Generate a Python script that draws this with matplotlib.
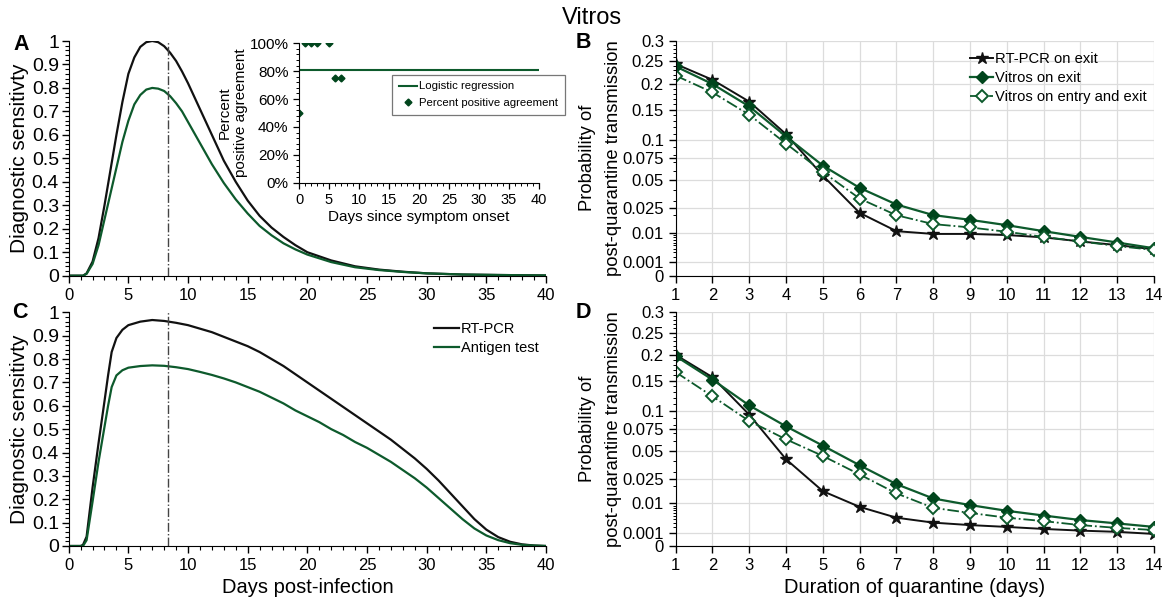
import numpy as np
import matplotlib
matplotlib.use("Agg")
import matplotlib.pyplot as plt
from matplotlib.ticker import FixedLocator, MultipleLocator, PercentFormatter

plt.rcParams['font.family'] = ['Liberation Sans', 'DejaVu Sans']

# colours
BLACK = '#111111'
GREEN = '#0d5a2c'
DKGREEN = '#00451c'

# ---- panel A : sensitivity by days post-infection (symptomatic)
days_a = [0, 1, 1.2, 1.5, 2, 2.5, 3, 3.5, 4, 4.5,
          5, 5.5, 6, 6.5, 7, 7.5, 8, 8.5, 9, 9.5,
          10, 11, 12, 13, 14, 15, 16, 17, 18, 19,
          20, 22, 24, 26, 28, 30, 33, 36, 40]
rtpcr_a = [0, 0, 0, 0.01, 0.06, 0.16, 0.30, 0.45, 0.60, 0.74,
           0.86, 0.93, 0.975, 0.995, 1.0, 0.995, 0.978, 0.95, 0.915, 0.87,
           0.82, 0.71, 0.60, 0.49, 0.40, 0.32, 0.255, 0.205, 0.165, 0.13,
           0.10, 0.065, 0.04, 0.026, 0.017, 0.01, 0.005, 0.003, 0.001]
antigen_a = [0, 0, 0, 0.008, 0.05, 0.13, 0.24, 0.35, 0.46, 0.57,
             0.66, 0.73, 0.77, 0.793, 0.80, 0.797, 0.787, 0.765, 0.735, 0.70,
             0.655, 0.565, 0.475, 0.395, 0.325, 0.265, 0.212, 0.172, 0.138, 0.112,
             0.09, 0.058, 0.036, 0.024, 0.016, 0.01, 0.005, 0.003, 0.001]

# inset of A
onset_days = [0, 1, 2, 3, 5, 6, 7]
ppa = [0.5, 1.0, 1.0, 1.0, 1.0, 0.75, 0.75]
logit_days = [0, 40]
logit_ppa = [0.81, 0.81]

# ---- panel C : sensitivity by days post-infection (asymptomatic)
days_c = [0, 1, 1.2, 1.5, 2, 2.5, 3, 3.3, 3.6, 4, 4.5,
          5, 6, 7, 8, 9, 10, 11, 12, 13, 14, 15,
          16, 17, 18, 19, 20, 21, 22, 23, 24, 25,
          26, 27, 28, 29, 30, 31, 32, 33, 34, 35,
          36, 37, 38, 39, 40]
rtpcr_c = [0, 0, 0.005, 0.04, 0.25, 0.44, 0.62, 0.73, 0.83, 0.89, 0.925,
           0.945, 0.96, 0.967, 0.963, 0.955, 0.945, 0.93, 0.915, 0.895, 0.875, 0.855,
           0.83, 0.80, 0.77, 0.735, 0.70, 0.665, 0.63, 0.595, 0.56, 0.525,
           0.49, 0.455, 0.415, 0.375, 0.33, 0.28, 0.225, 0.17, 0.115, 0.07,
           0.038, 0.018, 0.007, 0.002, 0.0]
antigen_c = [0, 0, 0, 0.025, 0.19, 0.36, 0.51, 0.60, 0.68, 0.73, 0.752,
             0.763, 0.77, 0.773, 0.771, 0.765, 0.757, 0.745, 0.732, 0.717, 0.70, 0.68,
             0.66, 0.635, 0.61, 0.58, 0.555, 0.53, 0.50, 0.475, 0.445, 0.42,
             0.39, 0.36, 0.325, 0.29, 0.25, 0.205, 0.16, 0.115, 0.075, 0.045,
             0.025, 0.012, 0.005, 0.002, 0.0]

peak_day = 8.3

# ---- panels B and D : probability of post-quarantine transmission
quar_days = [1, 2, 3, 4, 5, 6, 7, 8, 9, 10, 11, 12, 13, 14]
rtpcr_b = [0.244, 0.209, 0.165, 0.109, 0.0545, 0.0215, 0.0108, 0.0095, 0.0095,
           0.0090, 0.0080, 0.0064, 0.0051, 0.0038]
vitros_exit_b = [0.2385, 0.200, 0.156, 0.1055, 0.066, 0.042, 0.0276, 0.020, 0.017,
                 0.0139, 0.0108, 0.0082, 0.0060, 0.0041]
vitros_both_b = [0.218, 0.183, 0.141, 0.095, 0.0585, 0.0324, 0.0199, 0.0145, 0.0127,
                 0.0105, 0.0082, 0.0064, 0.0048, 0.0036]
rtpcr_d = [0.2006, 0.1565, 0.0947, 0.0413, 0.0165, 0.0084, 0.0044, 0.0030, 0.0024,
           0.0020, 0.0016, 0.0013, 0.0011, 0.0008]
vitros_exit_d = [0.198, 0.152, 0.1085, 0.0786, 0.0553, 0.0358, 0.021, 0.0124, 0.0092,
                 0.0068, 0.0051, 0.0037, 0.0028, 0.0020]
vitros_both_d = [0.166, 0.123, 0.0857, 0.0625, 0.0445, 0.0281, 0.0152, 0.008, 0.006,
                 0.0044, 0.0034, 0.0024, 0.0018, 0.0014]

prob_ticks = [0, 0.001, 0.01, 0.025, 0.05, 0.075, 0.1, 0.15, 0.2, 0.25, 0.3]
prob_labels = ['0', '0.001', '0.01', '0.025', '0.05', '0.075', '0.1', '0.15', '0.2', '0.25', '0.3']

W, H = 1169, 607
fig = plt.figure(figsize=(W / 100, H / 100), dpi=100)


def px_axes(x0, x1, ytop, ybot):
    return fig.add_axes([x0 / W, 1 - ybot / H, (x1 - x0) / W, (ybot - ytop) / H])


def style_sens(ax):
    ax.set_xlim(0, 40)
    ax.set_ylim(0, 1)
    ax.spines['top'].set_visible(False)
    ax.spines['right'].set_visible(False)
    ax.xaxis.set_major_locator(MultipleLocator(5))
    ax.xaxis.set_minor_locator(MultipleLocator(1))
    ax.yaxis.set_minor_locator(MultipleLocator(0.02))
    ax.set_yticks(np.arange(0, 1.01, 0.1))
    ax.set_yticklabels(['0', '0.1', '0.2', '0.3', '0.4', '0.5', '0.6', '0.7', '0.8', '0.9', '1'])
    ax.tick_params(axis='y', labelsize=14, length=5, width=1, pad=2)
    ax.tick_params(axis='x', labelsize=12, length=5, width=1)
    ax.tick_params(which='minor', length=3, width=0.8)
    ax.set_ylabel('Diagnostic sensitivty', fontsize=15, labelpad=2)
    ax.axvline(peak_day, color='#444444', lw=1, ls='-.')


sq = (lambda v: np.sqrt(np.clip(v, 0, None)), lambda v: np.square(v))


def style_prob(ax, ymid):
    ax.set_yscale('function', functions=sq)
    ax.set_xlim(1, 14)
    ax.set_ylim(0, 0.3)
    ax.set_xticks(quar_days)
    ax.yaxis.set_major_locator(FixedLocator(prob_ticks))
    ax.set_yticklabels(prob_labels)
    minors = list(np.arange(0.002, 0.01, 0.001)) + list(np.arange(0.02, 0.3, 0.01))
    ax.yaxis.set_minor_locator(FixedLocator(minors))
    ax.spines['top'].set_visible(False)
    ax.spines['right'].set_visible(False)
    ax.grid(True, which='major', color='#dcdcdc', lw=0.9)
    ax.set_axisbelow(True)
    ax.tick_params(axis='both', labelsize=12, length=5, width=1)
    ax.tick_params(which='minor', length=2.5, width=0.7)
    # two-line y label, written as two texts to match the wide line gap
    fig.text(587.5 / W, 1 - ymid / H, 'Probability of', rotation=90,
             ha='center', va='center', fontsize=13.2)
    fig.text(613 / W, 1 - ymid / H, 'post-quarantine transmission', rotation=90,
             ha='center', va='center', fontsize=13.2)


def plot_prob(ax, rt, ve, vb):
    ax.plot(quar_days, rt, color=BLACK, lw=1.4, marker='*', ms=9, label='RT-PCR on exit')
    ax.plot(quar_days, ve, color=GREEN, lw=1.6, marker='D', ms=6, mfc=DKGREEN, mec=DKGREEN,
            label='Vitros on exit')
    ax.plot(quar_days, vb, color=GREEN, lw=1.3, ls='-.', marker='D', ms=6, mfc='white',
            mec=GREEN, mew=1.4, label='Vitros on entry and exit')


# A
axA = px_axes(68.7, 546, 41, 275.7)
axA.plot(days_a, rtpcr_a, color=BLACK, lw=1.6)
axA.plot(days_a, antigen_a, color=GREEN, lw=1.6)
style_sens(axA)

# inset
axI = px_axes(299, 539, 43.3, 182.7)
axI.plot(logit_days, logit_ppa, color=GREEN, lw=1.5, label='Logistic regression')
axI.plot(onset_days, ppa, ls='none', marker='D', ms=3.5, color=DKGREEN,
         label='Percent positive agreement')
axI.set_xlim(0, 40)
axI.set_ylim(0, 1.0)
axI.spines['top'].set_visible(False)
axI.spines['right'].set_visible(False)
axI.xaxis.set_major_locator(MultipleLocator(5))
axI.xaxis.set_minor_locator(MultipleLocator(1))
axI.yaxis.set_major_locator(MultipleLocator(0.2))
axI.yaxis.set_minor_locator(MultipleLocator(0.04))
axI.yaxis.set_major_formatter(PercentFormatter(1.0, decimals=0))
axI.tick_params(labelsize=10.5, length=4, width=0.9)
axI.tick_params(axis='y', labelsize=11)
axI.tick_params(which='minor', length=2, width=0.7)
axI.set_xlabel('Days since symptom onset', fontsize=11, labelpad=2)
axI.set_ylabel('Percent\npositive agreement', fontsize=11, labelpad=1, linespacing=1.25)
legI = axI.legend(loc='upper left', bbox_to_anchor=(0.3875, 0.775), borderaxespad=0,
                  fontsize=8.2, fancybox=False, framealpha=1, edgecolor='#777777',
                  handlelength=1.6, handletextpad=0.15, borderpad=0.6, labelspacing=0.6)
legI.get_frame().set_linewidth(0.9)
legI.set_clip_on(False)

# C
axC = px_axes(68.7, 546, 312.3, 546)
axC.plot(days_c, rtpcr_c, color=BLACK, lw=1.6, label='RT-PCR')
axC.plot(days_c, antigen_c, color=GREEN, lw=1.6, label='Antigen test')
style_sens(axC)
axC.set_xlabel('Days post-infection', fontsize=14.5, labelpad=4)
axC.legend(loc='upper left', bbox_to_anchor=(0.765, 0.96), frameon=False, fontsize=10.5,
           handlelength=1.7, handletextpad=0.15, borderaxespad=0, borderpad=0,
           labelspacing=0.35)

# B
axB = px_axes(675.7, 1154, 41, 275.7)
plot_prob(axB, rtpcr_b, vitros_exit_b, vitros_both_b)
style_prob(axB, 158)
axB.legend(loc='upper left', bbox_to_anchor=(0.615, 0.952), frameon=False, fontsize=10.6,
           handlelength=1.6, handletextpad=0.1, borderaxespad=0, borderpad=0,
           labelspacing=0.32)

# D
axD = px_axes(675.7, 1154, 312.3, 546)
plot_prob(axD, rtpcr_d, vitros_exit_d, vitros_both_d)
style_prob(axD, 429)
axD.set_xlabel('Duration of quarantine (days)', fontsize=14.5, labelpad=4)

fig.text(592 / W, 1 - 18 / H, 'Vitros', ha='center', va='center', fontsize=17)
for letter, x, y in [('A', 21, 44.5), ('B', 583, 43), ('C', 20, 312.5), ('D', 583, 313)]:
    fig.text(x / W, 1 - y / H, letter, ha='center', va='center', fontsize=15.5,
             fontweight='bold')

fig.savefig('out.png', dpi=100)
